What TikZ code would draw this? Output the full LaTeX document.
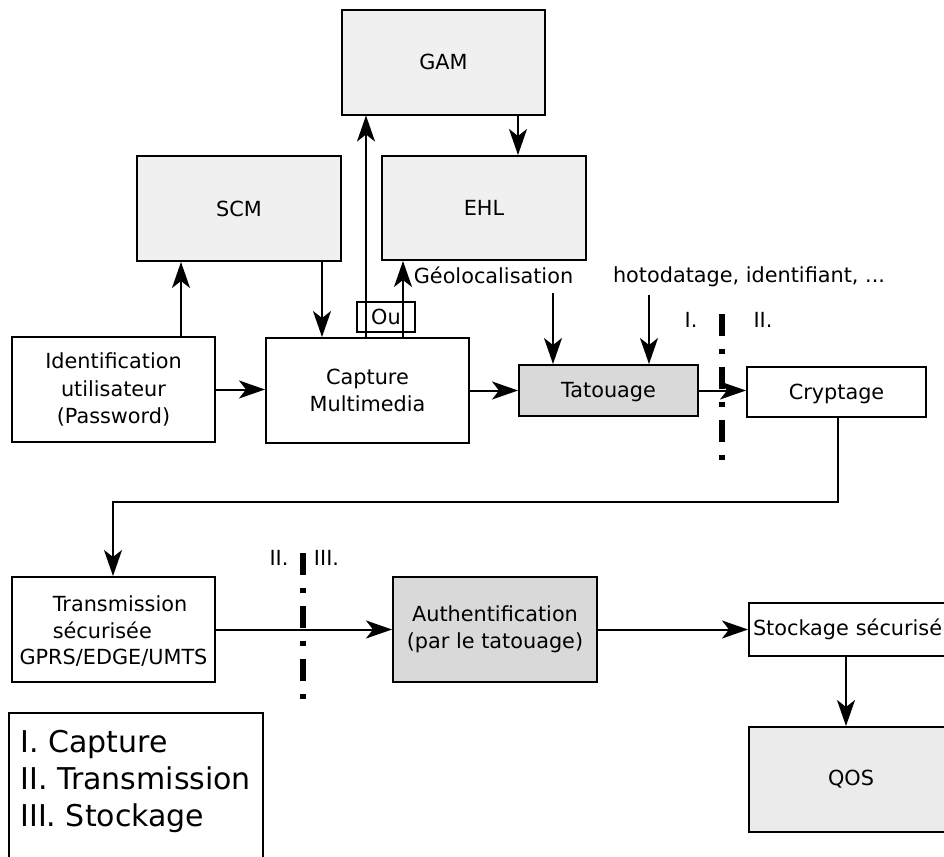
\documentclass[tikz,border=0pt]{standalone}
\usepackage{fontspec}
\setmainfont{DejaVu Sans}
\usetikzlibrary{arrows.meta}
\tikzset{
    bloc/.style={draw, line width=1pt, minimum width=101.5pt, minimum height=52.5pt, align=center, inner sep=0pt, font=\fontsize{10.4}{13.6}\selectfont},
    blocclair/.style={bloc, fill=gray!12},
    blocgris/.style={bloc, fill=gray!30},
    petitbloc/.style={bloc, minimum width=89.5pt, minimum height=25.5pt},
    fleche/.style={-{Stealth[length=13pt, width=9pt, inset=3.5pt]}, line width=1pt},
    trait/.style={line width=0.8pt},
    coupure/.style={line width=3pt, dash pattern=on 11pt off 6.5pt on 2.5pt off 6.5pt},
    etiquette/.style={font=\fontsize{10.4}{12}\selectfont, inner sep=0pt},
    legende/.style={font=\fontsize{15}{18.5}\selectfont, align=left, inner sep=0pt}
}

\begin{document}
\begin{tikzpicture}[x=0.5pt, y=-0.5pt]
    \useasboundingbox (0,0) rectangle (944,857);
    % Capture
    \node[blocclair] (gam) at (443.5,62) {GAM};
    \node[blocclair, minimum width=102pt, minimum height=52pt] (ehl) at (484,208) {EHL};
    \node[blocclair, minimum width=102pt] (scm) at (239,208.5) {SCM};
    \node[bloc] (ident) at (113.5,389.5) {Identification\\utilisateur\\(Password)};
    \node[bloc] (capture) at (367.5,390.5) {Capture\\Multimedia};
    \node[bloc, minimum width=29pt, minimum height=15pt] (ou) at (386,317) {Ou};
    \node[petitbloc, fill=gray!30, text depth=0.5pt] (tatouage) at (608.5,390.5) {Tatouage};
    \node[petitbloc, minimum height=25pt, text depth=0.5pt] (cryptage) at (836.5,392) {Cryptage};
    \node[etiquette, anchor=base] (geo) at (493.5,283) {Géolocalisation};
    \node[etiquette, anchor=base] (horo) at (749,282) {hotodatage, identifiant, ...};
    \coordinate (geobas) at (553,293);
    \coordinate (horobas) at (649,295);

    \draw[fleche] (181,0 |- ident.north) -- (181,0 |- scm.south);
    \draw[fleche] (322,0 |- scm.south) -- (322,0 |- capture.north);
    \draw[fleche] (ident.east) -- (ident.east -| capture.west);
    \draw[fleche] (366,0 |- capture.north) -- (366,0 |- gam.south);
    \draw[fleche] (403,0 |- capture.north) -- (403,0 |- ehl.south);
    \draw[fleche] (518,0 |- gam.south) -- (518,0 |- ehl.north);
    \draw[fleche] (geobas) -- (geobas |- tatouage.north);
    \draw[fleche] (horobas) -- (horobas |- tatouage.north);
    \draw[fleche] (capture.east |- tatouage.west) -- (tatouage.west);
    \draw[fleche] (tatouage.east) -- (tatouage.east -| cryptage.west);

    \draw[coupure] (722,314) -- (722,462);
    \node[etiquette] (sepI) at (691,320) {I.};
    \node[etiquette] (sepII) at (763,320) {II.};

    % Transmission et stockage
    \node[bloc] (trans) at (113.5,629.5) {\hspace*{6.5pt}\begin{tabular}{@{}l@{}}Transmission\\sécurisée\end{tabular}\\GPRS/EDGE/UMTS};
    \node[blocgris, minimum width=102pt] (auth) at (495,629.5) {Authentification\\(par le tatouage)};
    \node[bloc, anchor=west, minimum width=99pt, minimum height=26.5pt, text width=95pt, align=left, inner xsep=2pt] (stock) at (748,629.5) {Stockage sécurisé};
    \node[bloc, fill=gray!16, minimum width=102pt] (qos) at (851,779.5) {QOS};
    \coordinate (coude) at (838,502);

    \draw[fleche] (coude |- cryptage.south) -- (coude) -| (113,0 |- trans.north);
    \draw[fleche] (trans.east) -- (trans.east -| auth.west);
    \draw[fleche] (auth.east) -- (auth.east -| stock.west);
    \draw[fleche] (846,0 |- stock.south) -- (846,0 |- qos.north);

    \draw[coupure] (303,553) -- (303,702);
    \node[etiquette] (sepII2) at (279,558) {II.};
    \node[etiquette] (sepIII) at (326.5,558) {III.};

    % Legende
    \draw[trait] (9,713) rectangle (263,880);
    \node[legende, anchor=west] (leg) at (20,781) {I. Capture\\II. Transmission\\III. Stockage};
\end{tikzpicture}
\end{document}
